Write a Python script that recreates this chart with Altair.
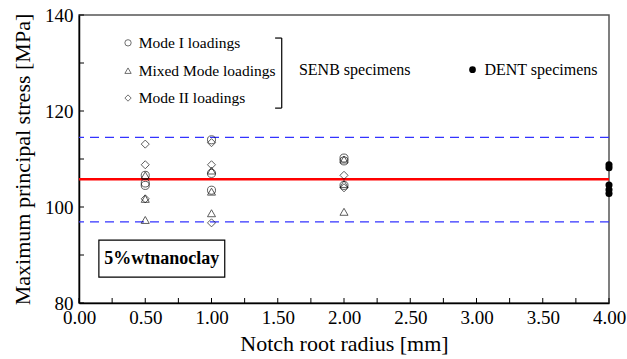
import altair as alt
import pandas as pd

# ---- data ----
senb_radius = [0.5]*9 + [1.0]*9 + [2.0]*8
senb_mode = (["Mode I"]*3 + ["Mixed Mode"]*3 + ["Mode II"]*3
             + ["Mode I"]*3 + ["Mixed Mode"]*3 + ["Mode II"]*3
             + ["Mode I"]*3 + ["Mixed Mode"]*3 + ["Mode II"]*2)
senb_stress = [106.6, 105.0, 104.5, 106.6, 101.7, 97.3, 113.1, 108.8, 101.7,
               114.0, 107.0, 103.5, 107.6, 103.2, 98.7, 113.4, 108.8, 96.7,
               110.2, 109.6, 104.5, 109.9, 104.8, 99.0, 106.6, 104.0]

dent_radius = [4.0, 4.0, 4.0, 4.0, 4.0]
dent_stress = [108.8, 108.2, 104.6, 103.6, 102.8]

mean_stress = 105.8
band_upper = 114.5
band_lower = 96.9

x_ticks = [i * 0.25 for i in range(17)]
x_labels = [i * 0.5 for i in range(9)]
y_ticks = [80, 90, 100, 110, 120, 130, 140]
y_labels = [80, 100, 120, 140]

legend_labels = ["Mode I loadings", "Mixed Mode loadings", "Mode II loadings"]
legend_modes = ["Mode I", "Mixed Mode", "Mode II"]
legend_y = [134.2, 128.4, 122.7]

FONT = "Liberation Serif, Times New Roman, serif"

senb = pd.DataFrame({"r": senb_radius, "s": senb_stress, "mode": senb_mode})
dent = pd.DataFrame({"r": dent_radius, "s": dent_stress})

xs = alt.Scale(domain=[0, 4], nice=False, zero=False)
ys = alt.Scale(domain=[80, 140], nice=False, zero=False)
shape_scale = alt.Scale(domain=legend_modes, range=["circle", "triangle-up", "diamond"])

X = alt.X("r:Q", scale=xs,
          axis=alt.Axis(values=x_labels, format=".2f", ticks=False, grid=False,
                        labelFlush=False, labelFont=FONT, labelFontSize=19,
                        labelColor="black", labelPadding=5,
                        domainColor="black", domainWidth=1.5,
                        title="Notch root radius [mm]", titleFont=FONT,
                        titleFontSize=22, titleFontWeight="normal",
                        titleColor="black", titlePadding=6))
Y = alt.Y("s:Q", scale=ys,
          axis=alt.Axis(values=y_labels, ticks=False, grid=False,
                        labelFlush=False, labelFont=FONT, labelFontSize=19,
                        labelColor="black", labelPadding=6,
                        domainColor="black", domainWidth=1.5,
                        title="Maximum principal stress [MPa]", titleFont=FONT,
                        titleFontSize=22, titleFontWeight="normal",
                        titleColor="black", titlePadding=10))

base_pts = alt.Chart(senb).mark_point(filled=False, color="black", strokeWidth=0.9, size=65).encode(
    x=X, y=Y,
    shape=alt.Shape("mode:N", scale=shape_scale, legend=None))

dent_pts = alt.Chart(dent).mark_circle(color="black", opacity=1, size=50).encode(
    x=alt.X("r:Q", scale=xs), y=alt.Y("s:Q", scale=ys))

hlines = pd.DataFrame({"s": [mean_stress]})
bands = pd.DataFrame({"s": [band_upper, band_lower]})
red = alt.Chart(hlines).mark_rule(color="#ff0000", strokeWidth=2.5).encode(y=alt.Y("s:Q", scale=ys))
blue = alt.Chart(bands).mark_rule(color="#3333ff", strokeWidth=1.2, strokeDash=[9, 6]).encode(
    y=alt.Y("s:Q", scale=ys))

# inward ticks
xt = alt.Chart(pd.DataFrame({"r": x_ticks})).mark_rule(color="black", strokeWidth=1).encode(
    x=alt.X("r:Q", scale=xs), y=alt.value(288), y2=alt.value(283))
yt = alt.Chart(pd.DataFrame({"s": y_ticks})).mark_rule(color="black", strokeWidth=1).encode(
    y=alt.Y("s:Q", scale=ys), x=alt.value(0), x2=alt.value(5))

# legend / annotations (data coordinates)
leg = pd.DataFrame({"r": [0.37]*3, "s": legend_y, "mode": legend_modes, "label": legend_labels,
                    "tx": [0.45]*3})
leg_pts = alt.Chart(leg).mark_point(filled=False, color="black", strokeWidth=0.8, size=40).encode(
    x=alt.X("r:Q", scale=xs), y=alt.Y("s:Q", scale=ys),
    shape=alt.Shape("mode:N", scale=shape_scale, legend=None))
leg_txt = alt.Chart(leg).mark_text(align="left", baseline="middle", font=FONT, fontSize=15.5,
                                   color="black").encode(
    x=alt.X("tx:Q", scale=xs), y=alt.Y("s:Q", scale=ys), text="label:N")

bracket_v = alt.Chart(pd.DataFrame({"r": [1.53], "s": [135.2], "s2": [120.6]})).mark_rule(
    color="black", strokeWidth=1.2).encode(
    x=alt.X("r:Q", scale=xs), y=alt.Y("s:Q", scale=ys), y2="s2:Q")
bracket_h = alt.Chart(pd.DataFrame({"r": [1.48, 1.48], "r2": [1.53, 1.53], "s": [135.2, 120.6]})).mark_rule(
    color="black", strokeWidth=1.2).encode(
    x=alt.X("r:Q", scale=xs), x2="r2:Q", y=alt.Y("s:Q", scale=ys))

ann = pd.DataFrame({"r": [1.66, 3.06], "s": [128.6, 128.6],
                    "label": ["SENB specimens", "DENT specimens"]})
ann_txt = alt.Chart(ann).mark_text(align="left", baseline="middle", font=FONT, fontSize=16,
                                   color="black").encode(
    x=alt.X("r:Q", scale=xs), y=alt.Y("s:Q", scale=ys), text="label:N")
dent_leg = alt.Chart(pd.DataFrame({"r": [2.97], "s": [128.6]})).mark_circle(
    color="black", opacity=1, size=45).encode(x=alt.X("r:Q", scale=xs), y=alt.Y("s:Q", scale=ys))

box = alt.Chart(pd.DataFrame({"r": [0.15], "r2": [1.10], "s": [93.1], "s2": [85.4]})).mark_rect(
    fill="white", stroke="black", strokeWidth=1.2).encode(
    x=alt.X("r:Q", scale=xs), x2="r2:Q", y=alt.Y("s:Q", scale=ys), y2="s2:Q")
box_txt = alt.Chart(pd.DataFrame({"r": [0.625], "s": [89.2], "label": ["5%wtnanoclay"]})).mark_text(
    align="center", baseline="middle", font="Liberation Serif", fontSize=18, fontWeight="bold",
    color="black").encode(
    x=alt.X("r:Q", scale=xs), y=alt.Y("s:Q", scale=ys), text="label:N")

chart = alt.layer(
    base_pts.mark_point(opacity=0), red, blue, base_pts, dent_pts, xt, yt,
    leg_pts, leg_txt, bracket_v, bracket_h, ann_txt, dent_leg, box, box_txt
).properties(
    width=530, height=288,
    autosize=alt.AutoSizeParams(type="none"),
    padding={"left": 79, "top": 15, "right": 18, "bottom": 56},
    background="white",
).configure_view(stroke="#555555", strokeWidth=1.5)

chart.save("out.html", embed_options={"renderer": "svg", "actions": False})
